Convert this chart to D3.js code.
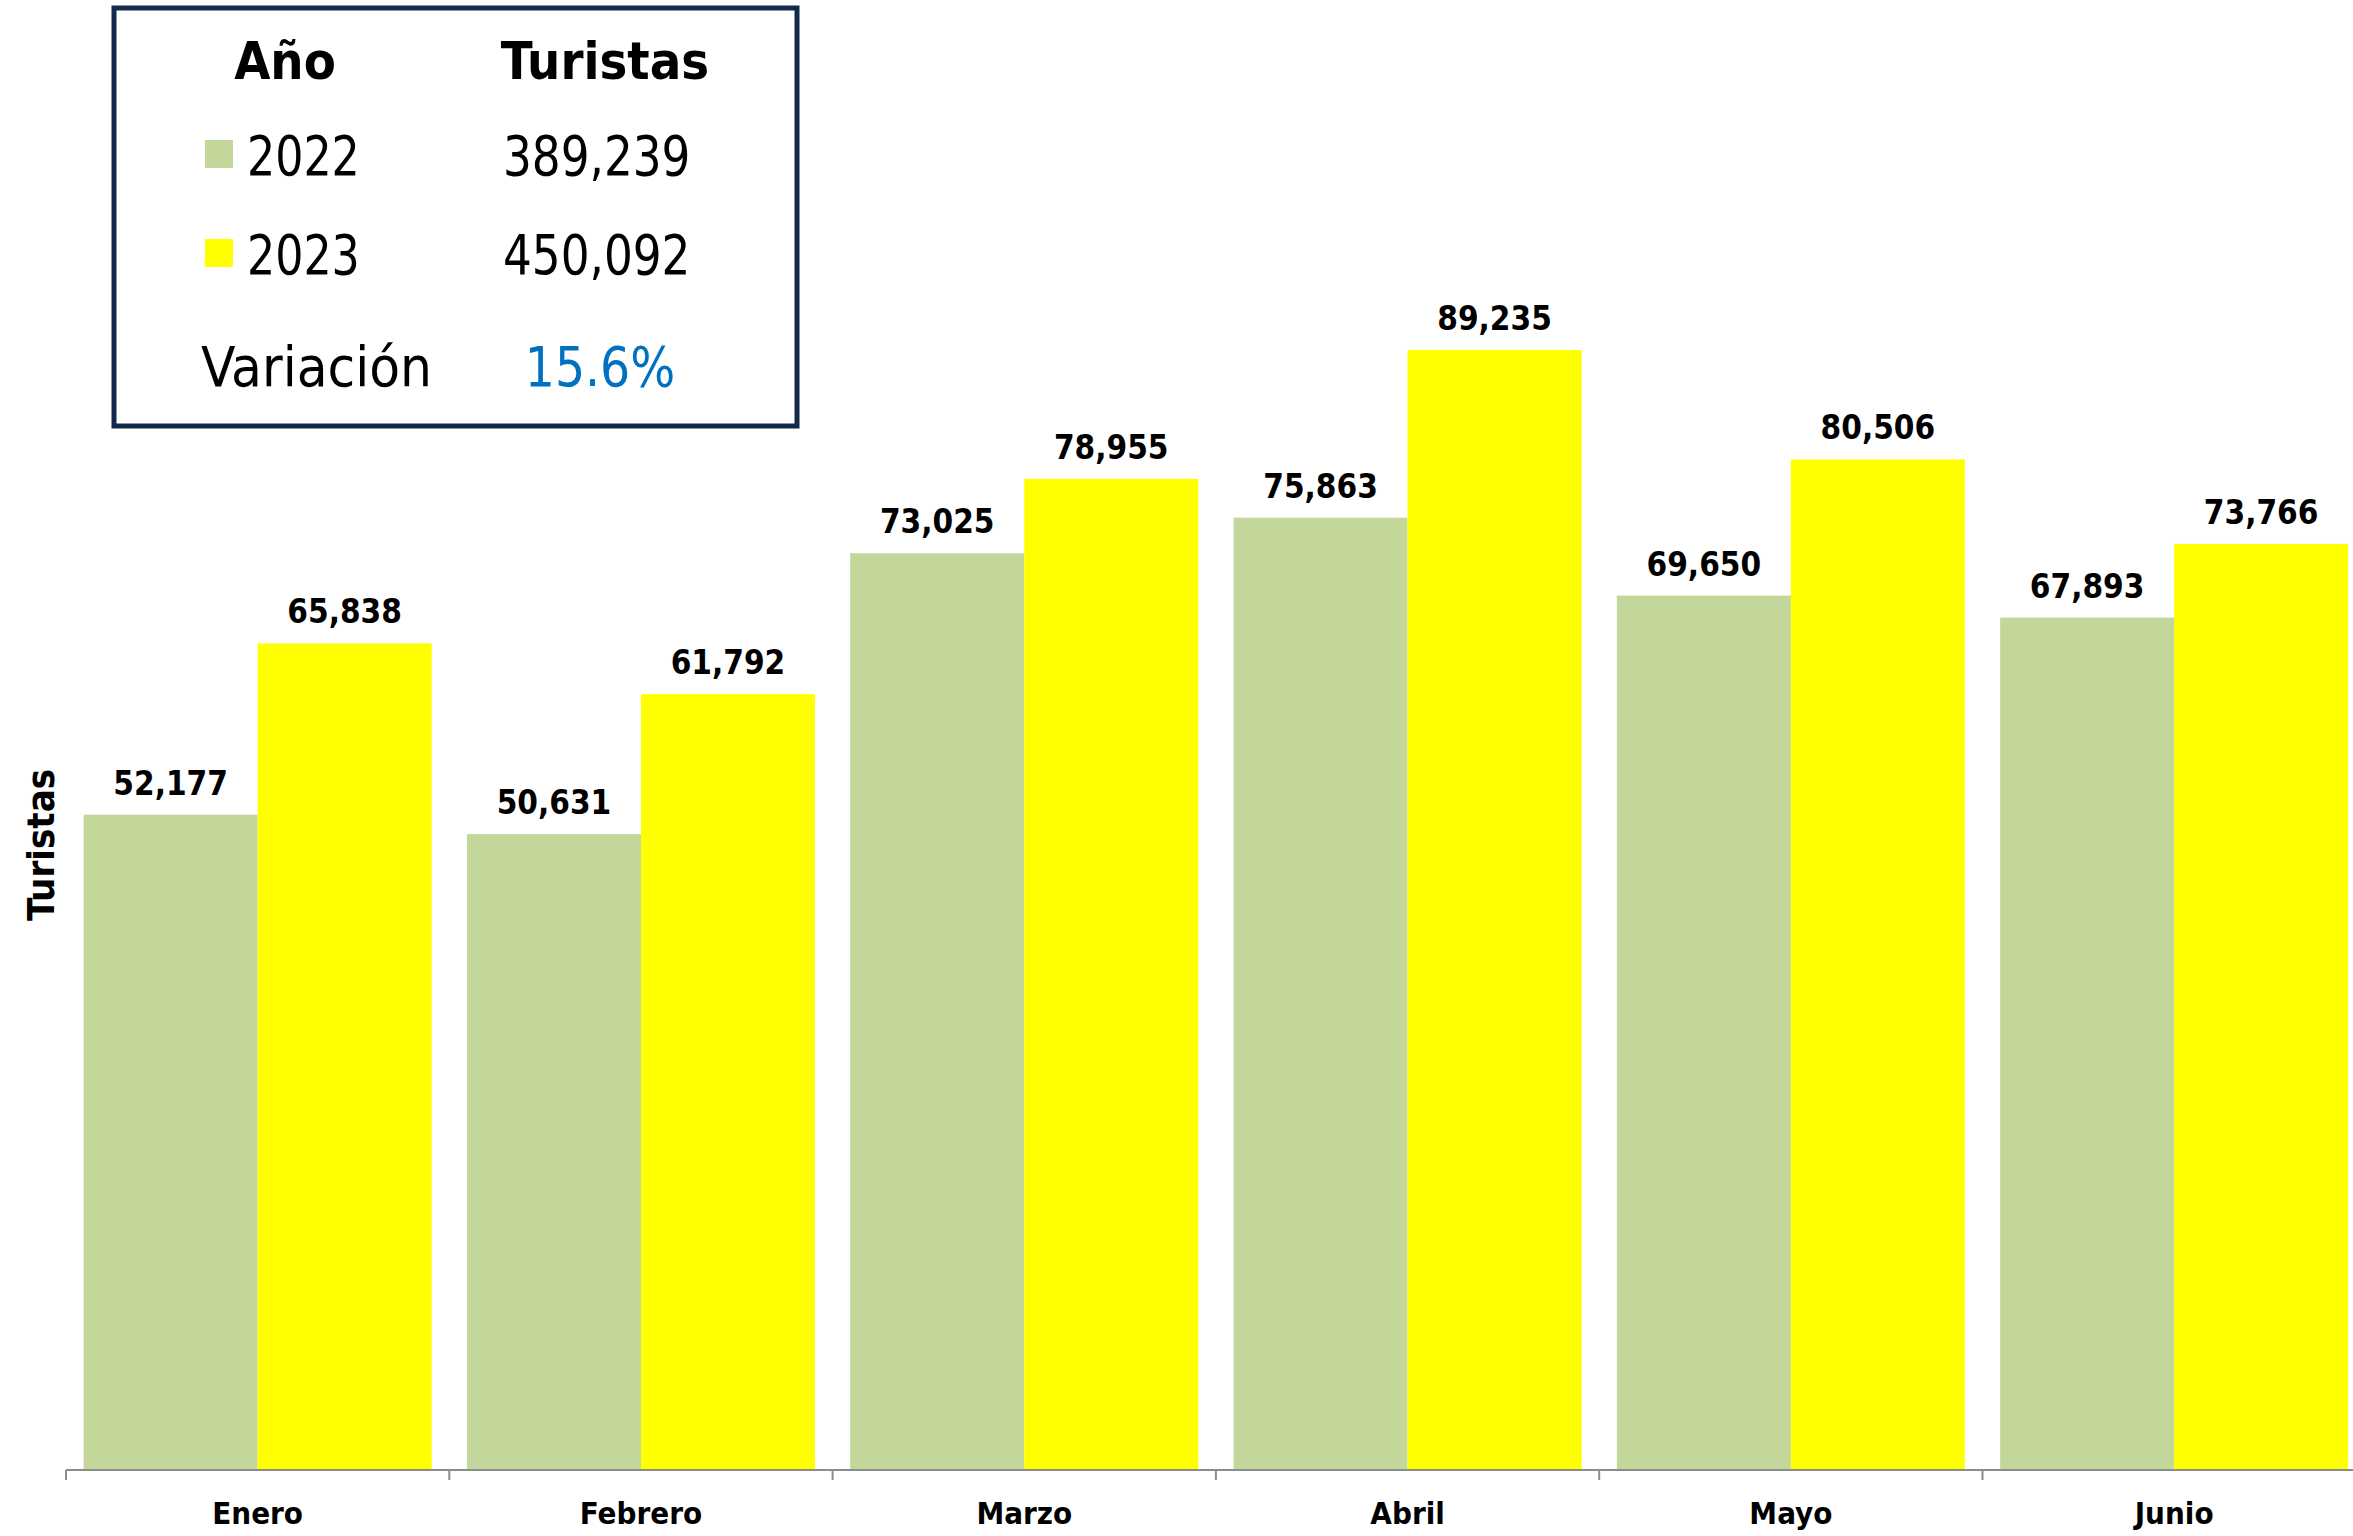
<!DOCTYPE html>
<html lang="es">
<head>
<meta charset="utf-8">
<title>Turistas por mes, 2022 vs 2023</title>
<script src="https://cdn.jsdelivr.net/npm/d3@7"></script>
<style>
  html, body { margin: 0; padding: 0; background: #ffffff; }
  svg { display: block; }
  text { font-family: "DejaVu Sans Condensed", "DejaVu Sans", sans-serif; fill: #000; }
</style>
</head>
<body>
<svg id="chart" width="2353" height="1536"></svg>
<script>
// Monthly tourist arrivals, January to June
const months = ["Enero", "Febrero", "Marzo", "Abril", "Mayo", "Junio"];
const years = ["2022", "2023"];
const values2022 = [52177, 50631, 73025, 75863, 69650, 67893];
const values2023 = [65838, 61792, 78955, 89235, 80506, 73766];
const seriesColors = ["#c4d79b", "#ffff00"];
const yAxisTitle = "Turistas";
const legendHeaders = ["Año", "Turistas"];
const variationLabel = "Variación";

const series = [values2022, values2023];
const rows = months.map((m, i) => ({ month: m, values: years.map((y, j) => ({ year: y, value: series[j][i] })) }));

const svg = d3.select("#chart");

// Plot geometry
const baseline = 1469;
const left = 66;
const step = 383.3;
const x0 = d3.scaleBand().domain(months).range([left, left + step * months.length])
  .paddingInner(0.092).paddingOuter(0.046);
const x1 = d3.scaleBand().domain(years).range([0, x0.bandwidth()]).padding(0);
const y = d3.scaleLinear().domain([0, 100000]).range([baseline, baseline - 100000 * 0.012540]);
const color = d3.scaleOrdinal().domain(years).range(seriesColors);
const fmt = d3.format(",");

// Bars
const groups = svg.append("g").selectAll("g").data(rows).join("g")
  .attr("transform", d => `translate(${x0(d.month)},0)`);

groups.selectAll("rect").data(d => d.values).join("rect")
  .attr("x", d => x1(d.year))
  .attr("y", d => y(d.value))
  .attr("width", x1.bandwidth())
  .attr("height", d => y(0) - y(d.value))
  .attr("fill", d => color(d.year));

// Value labels above each bar
groups.selectAll("text.value").data(d => d.values).join("text")
  .attr("class", "value")
  .attr("x", d => x1(d.year) + x1.bandwidth() / 2)
  .attr("y", d => y(d.value) - 20)
  .attr("text-anchor", "middle")
  .style("font-weight", "bold")
  .style("font-size", "33px")
  .text(d => fmt(d.value));

// Category axis: line, ticks at band boundaries, labels at band centres
const axis = svg.append("g").attr("transform", `translate(0,${baseline + 1})`);
axis.append("line")
  .attr("x1", left).attr("x2", left + step * months.length)
  .attr("y1", 0).attr("y2", 0)
  .attr("stroke", "#8c8c8c").attr("stroke-width", 2);
const boundaries = months.map(m => x0(m) - x0.step() * x0.paddingOuter());
boundaries.push(left + step * months.length);
axis.selectAll("line.tick").data(boundaries).join("line")
  .attr("class", "tick")
  .attr("x1", d => d).attr("x2", d => d)
  .attr("y1", 0).attr("y2", 10)
  .attr("stroke", "#8c8c8c").attr("stroke-width", 2);
const bottomAxis = d3.axisBottom(x0).tickSize(0).tickPadding(0);
const labelAxis = svg.append("g").attr("transform", `translate(0,${baseline})`).call(bottomAxis);
labelAxis.select(".domain").remove();
labelAxis.selectAll("text")
  .attr("dy", null)
  .attr("y", 55)
  .style("font-weight", "bold")
  .style("font-size", "31px")
  .style("font-family", '"DejaVu Sans Condensed", "DejaVu Sans", sans-serif')
  .attr("fill", "#000");

// Y axis title
svg.append("text")
  .attr("transform", "translate(54,845) rotate(-90)")
  .attr("text-anchor", "middle")
  .style("font-weight", "bold")
  .style("font-size", "38px")
  .text(yAxisTitle);

// Summary box
const totals = series.map(s => d3.sum(s));
const variation = totals[1] / totals[0] - 1;

const box = svg.append("g");
box.append("rect")
  .attr("x", 114).attr("y", 8).attr("width", 683).attr("height", 418)
  .attr("fill", "#fff").attr("stroke", "#13294b").attr("stroke-width", 5);

box.append("text").attr("x", 285).attr("y", 79).attr("text-anchor", "middle")
  .style("font-weight", "bold").style("font-size", "52px").text(legendHeaders[0]);
box.append("text").attr("x", 605).attr("y", 79).attr("text-anchor", "middle")
  .style("font-weight", "bold").style("font-size", "52px").text(legendHeaders[1]);

// Text in the box is set slightly narrow
const narrow = (sel, x, yPos, sx) => sel.attr("transform", `translate(${x},${yPos}) scale(${sx},1)`);

const rowBaselines = [175, 274];
years.forEach((yr, i) => {
  box.append("rect")
    .attr("x", 205).attr("y", rowBaselines[i] - 35)
    .attr("width", 28).attr("height", 28)
    .attr("fill", color(yr));
  narrow(box.append("text"), 247, rowBaselines[i], 0.88)
    .style("font-size", "56px").text(yr);
  narrow(box.append("text"), 503, rowBaselines[i], 0.9)
    .style("font-size", "56px").text(fmt(totals[i]));
});

narrow(box.append("text"), 201, 386, 1)
  .style("font-size", "56px").text(variationLabel);
narrow(box.append("text"), 600, 386, 0.94).attr("text-anchor", "middle")
  .style("font-size", "56px").style("fill", "#0070c0")
  .text(d3.format(".1%")(variation));
</script>
</body>
</html>
